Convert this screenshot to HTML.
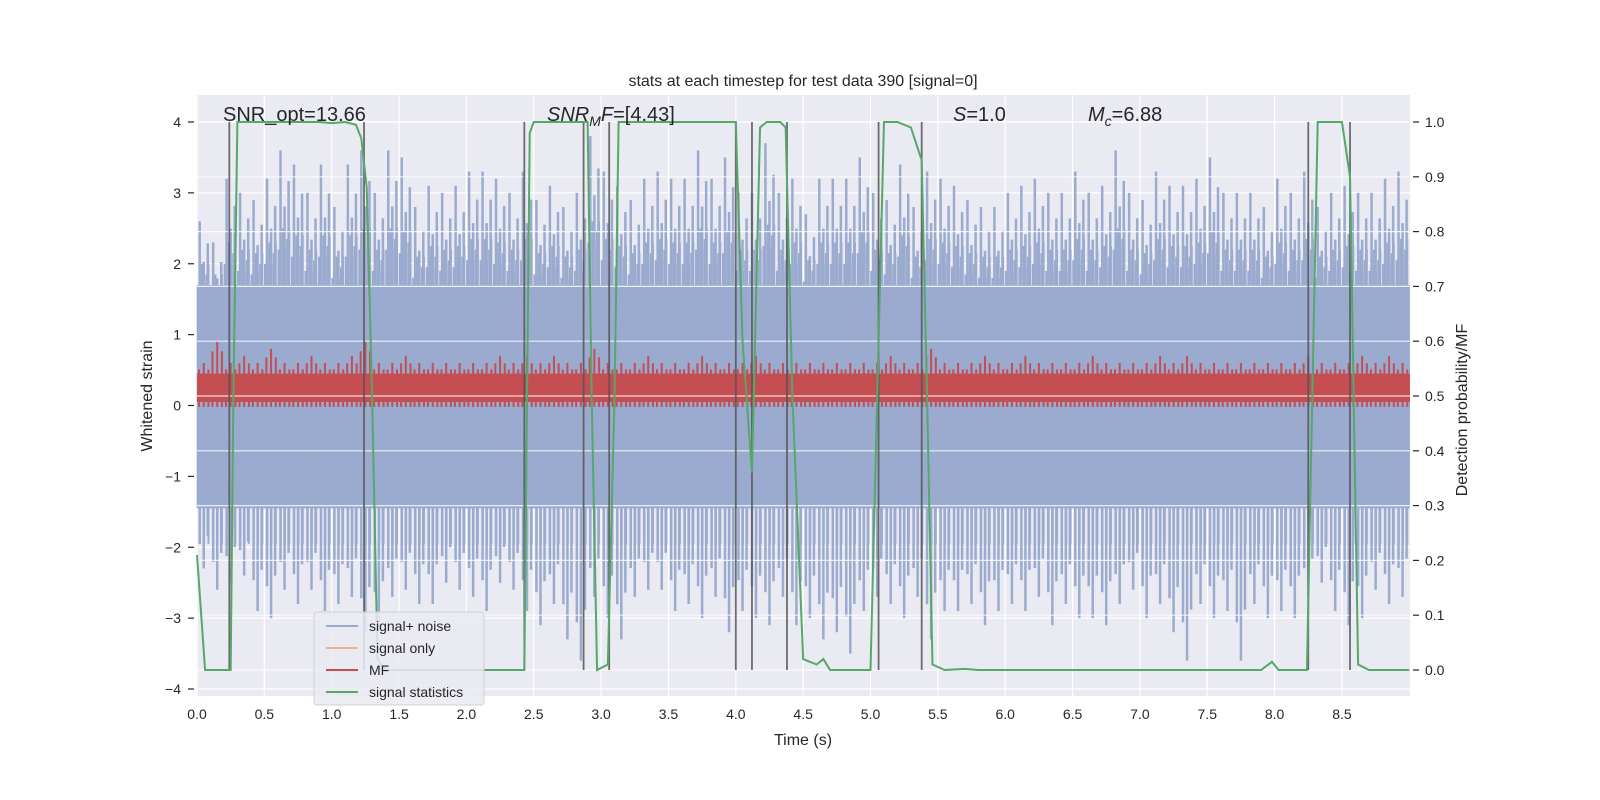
<!DOCTYPE html>
<html><head><meta charset="utf-8"><style>
html,body{margin:0;padding:0;background:#fff;overflow:hidden;width:1600px;height:800px;}
svg{display:block;}
svg text{font-family:"Liberation Sans","DejaVu Sans",sans-serif;fill:#262626;}
</style></head><body>
<svg id="c" width="1600" height="800" xmlns="http://www.w3.org/2000/svg">
<rect x="197" y="95" width="1213" height="601" fill="#eaeaf2"/>
<g id="grid"></g><g id="noise"></g><g id="mf"></g><g id="grid2"></g><g id="vl"></g><g id="stat"></g><g id="axes"></g>
<text x="803" y="86" font-size="16" text-anchor="middle">stats at each timestep for test data 390 [signal=0]</text>
<text x="223" y="121" font-size="20">SNR_opt=13.66</text>
<text x="547" y="121" font-size="20"><tspan font-style="italic">SNR</tspan><tspan font-style="italic" font-size="14" dy="5">M</tspan><tspan font-style="italic" dy="-5">F</tspan>=[4.43]</text>
<text x="953" y="121" font-size="20"><tspan font-style="italic">S</tspan>=1.0</text>
<text x="1088" y="121" font-size="20"><tspan font-style="italic">M</tspan><tspan font-style="italic" font-size="14" dy="5">c</tspan><tspan dy="-5">=6.88</tspan></text>
<text x="803" y="745" font-size="16" text-anchor="middle">Time (s)</text>
<text transform="translate(152,396) rotate(-90)" font-size="16" text-anchor="middle">Whitened strain</text>
<text transform="translate(1467,410) rotate(-90)" font-size="16" text-anchor="middle">Detection probability/MF</text>
<g>
<rect x="314" y="612" width="170" height="93" rx="3" fill="#eaeaf2" fill-opacity="0.85" stroke="#d0d0d8"/>
<line x1="326" y1="626" x2="358" y2="626" stroke="#9aabcf" stroke-width="2"/>
<text x="369" y="631" font-size="14">signal+ noise</text>
<line x1="326" y1="648" x2="358" y2="648" stroke="#eeb397" stroke-width="2"/>
<text x="369" y="653" font-size="14">signal only</text>
<line x1="326" y1="670" x2="358" y2="670" stroke="#c44e52" stroke-width="2"/>
<text x="369" y="675" font-size="14">MF</text>
<line x1="326" y1="692" x2="358" y2="692" stroke="#55a868" stroke-width="2"/>
<text x="369" y="697" font-size="14">signal statistics</text>
</g>
</svg>
<script>
const noiseHi=[2.6,2.3,3.2,3.0,2.9,3.2,3.6,3.4,3.0,3.4,2.8,3.4,3.6,3.0,3.6,3.5,2.8,3.1,3.0,3.1,3.3,3.3,3.2,3.0,3.3,2.9,3.1,2.8,3.0,3.8,3.3,3.1,2.9,3.2,3.3,3.2,3.2,3.6,3.2,3.5,3.0,3.0,3.7,3.0,3.2,2.7,3.2,3.2,3.2,3.5,3.0,2.9,3.4,2.8,3.3,3.2,3.1,2.9,2.8,2.8,3.0,3.1,3.2,3.0,3.0,3.3,3.0,3.1,3.6,3.0,2.9,3.3,3.1,3.1,3.2,3.5,3.0,3.0,3.0,2.8,3.2,3.0,3.3,2.8,3.0,3.1,3.0,3.0,3.2,3.3];
const noiseLo=[-2.3,-2.6,-2.5,-2.4,-2.9,-3.0,-2.6,-2.8,-2.6,-2.9,-2.8,-2.7,-3.2,-3.1,-2.7,-2.6,-2.8,-2.8,-2.5,-2.6,-2.7,-2.9,-2.5,-2.6,-2.9,-3.1,-2.8,-3.3,-3.6,-2.7,-3.0,-3.3,-2.7,-2.6,-2.6,-2.9,-2.8,-3.0,-2.7,-3.2,-2.9,-3.0,-3.1,-2.7,-3.1,-3.0,-3.3,-3.2,-3.5,-2.9,-2.7,-2.8,-3.0,-2.7,-3.3,-2.9,-2.9,-2.8,-3.1,-2.9,-2.8,-2.9,-2.7,-3.1,-2.8,-3.0,-3.0,-3.1,-2.8,-2.6,-3.0,-2.8,-3.2,-3.6,-2.8,-3.0,-2.9,-3.6,-2.8,-3.0,-2.9,-3.0,-2.7,-2.5,-2.9,-3.1,-3.0,-2.6,-2.8,-2.7];
const mfHi=[0.6,0.9,0.6,0.7,0.6,0.8,0.6,0.6,0.7,0.6,0.6,0.7,0.9,0.6,0.6,0.7,0.6,0.6,0.6,0.6,0.6,0.6,0.7,0.6,0.7,0.6,0.7,0.6,0.6,0.8,0.6,0.6,0.6,0.7,0.6,0.6,0.6,0.7,0.6,0.6,0.6,0.7,0.6,0.6,0.6,0.6,0.6,0.6,0.6,0.6,0.6,0.7,0.6,0.6,0.8,0.6,0.6,0.6,0.7,0.6,0.6,0.7,0.6,0.6,0.6,0.6,0.7,0.6,0.6,0.6,0.6,0.7,0.6,0.7,0.6,0.6,0.6,0.6,0.6,0.6,0.6,0.6,0.7,0.6,0.6,0.6,0.7,0.6,0.7,0.6];
const statT=[0,0.06,0.25,0.27,0.3,0.9,1.0,1.1,1.18,1.22,1.26,1.3,1.34,1.4,2.43,2.47,2.5,2.9,2.93,2.97,3.05,3.1,3.13,4.0,4.05,4.12,4.18,4.23,4.33,4.37,4.42,4.5,4.6,4.65,4.7,5.0,5.05,5.1,5.2,5.3,5.38,5.42,5.46,5.55,5.7,5.8,7.9,7.98,8.03,8.24,8.28,8.32,8.5,8.56,8.6,8.62,8.7,9.0];
const statP=[0.21,0,0,0.5,1,1,0.998,1,0.995,0.97,0.88,0.5,0.02,0,0,0.98,1,1,0.5,0,0.01,0.5,1,1,0.6,0.36,0.99,1,1,0.99,0.5,0.02,0.01,0.02,0,0,0.5,1,1,0.99,0.93,0.5,0.01,0,0.002,0,0,0.015,0,0,0.5,1,1,0.9,0.3,0.01,0,0];
const vlines=[0.24,1.24,2.43,2.87,3.06,4.0,4.12,4.38,5.06,5.38,8.25,8.56];
const xTicks=[0,0.5,1,1.5,2,2.5,3,3.5,4,4.5,5,5.5,6,6.5,7,7.5,8,8.5];
const yTicks=[-4,-3,-2,-1,0,1,2,3,4];
const y2Ticks=[0,0.1,0.2,0.3,0.4,0.5,0.6,0.7,0.8,0.9,1.0];
const X=t=>197+t*134.7, Y=v=>405.5-v*70.875, Y2=p=>670-p*548;
const NS="http://www.w3.org/2000/svg";
function mk(g,tag,a){const e=document.createElementNS(NS,tag);for(const k in a)e.setAttribute(k,a[k]);document.getElementById(g).appendChild(e);return e;}
xTicks.forEach(t=>{const e=mk('grid','line',{x1:X(t),x2:X(t),y1:95,y2:696,stroke:'#fff','stroke-width':1.2});


const l=mk('axes','text',{x:X(t),y:719,'font-size':14,'text-anchor':'middle'});l.textContent=t.toFixed(1);

});
yTicks.forEach(v=>{const e=mk('grid','line',{x1:197,x2:1410,y1:Y(v),y2:Y(v),stroke:'#fff','stroke-width':1.2});


const l=mk('axes','text',{x:181,y:Y(v)+5,'font-size':14,'text-anchor':'end'});l.textContent=(v<0?'\u2212'+(-v):v);


const k=mk('axes','line',{x1:188,x2:194,y1:Y(v),y2:Y(v),stroke:'#262626','stroke-width':1.2});

});
y2Ticks.forEach(p=>{const e=mk('grid2','line',{x1:197,x2:1410,y1:Y2(p),y2:Y2(p),stroke:'#fff','stroke-width':1.2,'stroke-opacity':0.8});


const l=mk('axes','text',{x:1425,y:Y2(p)+5,'font-size':14});l.textContent=p.toFixed(1);


const k=mk('axes','line',{x1:1413,x2:1419,y1:Y2(p),y2:Y2(p),stroke:'#262626','stroke-width':1.2});

});
let core=mk('noise','rect',{x:197,y:Y(1.7),width:1213,height:Y(-1.45)-Y(1.7),fill:'#9aabcf'});


noiseHi.forEach((h,i)=>{const t=i*0.1;
[[0.02,1],[0.05,0.78],[0.08,0.88]].forEach(([o,f])=>{
const e=mk('noise','line',{x1:X(t+o),x2:X(t+o),y1:Y(h*f),y2:Y(noiseLo[i]*(f===1?0.85:(f<0.8?1:0.8))),stroke:'#9aabcf','stroke-width':2.5});

});
for(let j=0;j<6;j++){const e=mk('noise','line',{x1:X(t+j*0.016+0.005),x2:X(t+j*0.016+0.005),y1:Y(1.7+(h-2.6)*0.5+(j%3)*0.15),y2:Y(-1.45-(j%2)*0.5),stroke:'#9aabcf','stroke-width':2});

}});
let band=mk('mf','rect',{x:197,y:Y(0.45),width:1213,height:Y(0.05)-Y(0.45),fill:'#c44e52'});


mfHi.forEach((h,i)=>{const t=i*0.1;
[0.015,0.05,0.085].forEach((o,j)=>{const e=mk('mf','line',{x1:X(t+o),x2:X(t+o),y1:Y(j==1?h:h*0.85),y2:Y(-0.02),stroke:'#c44e52','stroke-width':2});

});});
vlines.forEach(t=>{const e=mk('vl','line',{x1:X(t),x2:X(t),y1:Y2(1),y2:Y2(0),stroke:'#555','stroke-width':1.8,'stroke-opacity':0.85});

});
const sp=mk('stat','polyline',{points:statT.map((t,i)=>X(t)+','+Y2(statP[i])).join(' '),fill:'none',stroke:'#55a868','stroke-width':2});


</script>
</body></html>
